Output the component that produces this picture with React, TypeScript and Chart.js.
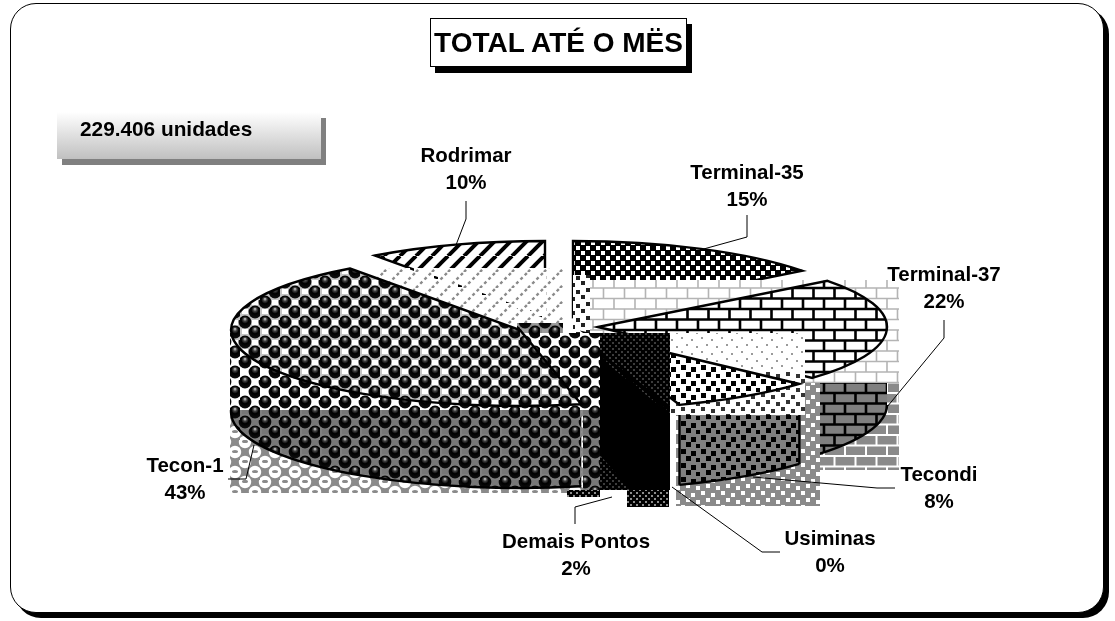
import React, { useEffect, useRef } from "react";
import { Chart, registerables, PieController } from "chart.js";

const categories = ["Terminal-35", "Terminal-37", "Tecondi", "Usiminas", "Demais Pontos", "Tecon-1", "Rodrimar"];
const shares = [14.6, 22.1, 8, 0.3, 1.6, 43.4, 10];

const FONT = '"Liberation Sans", Arial, sans-serif';

type Ctx = CanvasRenderingContext2D;
function tile(w: number, h: number, fn: (c: Ctx) => void) {
  const cv = document.createElement("canvas");
  cv.width = w; cv.height = h;
  const c = cv.getContext("2d")!;
  fn(c);
  return c.createPattern(cv, "repeat")!;
}
function ball(c: Ctx, x: number, y: number) {
  const g = c.createRadialGradient(x, y - 3.2, 0.3, x, y - 1, 6.5);
  g.addColorStop(0, "#c8c8c8");
  g.addColorStop(0.25, "#444");
  g.addColorStop(0.55, "#000");
  g.addColorStop(1, "#0c0c0c");
  c.fillStyle = g;
  c.beginPath(); c.arc(x, y, 6.4, 0, Math.PI * 2); c.fill();
}
function spheres(bg: string, hole: string) {
  return tile(20, 20, (c) => {
    c.fillStyle = bg; c.fillRect(0, 0, 20, 20);
    c.fillStyle = hole;
    c.fillRect(12, 0, 6, 5); c.fillRect(2, 9, 6, 5);
    for (const [x, y] of [[5, 2], [25, 2], [-15, 2], [5, 22], [15, 12]]) ball(c, x, y);
  });
}
function ringSpheres() {
  return tile(20, 20, (c) => {
    c.fillStyle = "#8a8a8a"; c.fillRect(0, 0, 20, 20);
    for (const [x, y] of [[5, 2], [5, 22], [15, 12], [25, 2], [-5, 12]]) {
      c.fillStyle = "#fff";
      c.beginPath(); c.arc(x, y, 6.2, 0, Math.PI * 2); c.fill();
      c.fillStyle = "#8a8a8a";
      c.beginPath(); c.ellipse(x, y - 0.5, 3, 1.6, 0, 0, Math.PI * 2); c.fill();
    }
  });
}
function bricks(bg: string, line: string, lw: number) {
  return tile(21, 21, (c) => {
    c.fillStyle = bg; c.fillRect(0, 0, 21, 21);
    c.strokeStyle = line; c.lineWidth = lw;
    c.beginPath();
    c.moveTo(0, 4.5); c.lineTo(21, 4.5);
    c.moveTo(0, 15); c.lineTo(21, 15);
    c.moveTo(5, 4.5); c.lineTo(5, 15);
    c.moveTo(15.5, 15); c.lineTo(15.5, 21);
    c.moveTo(15.5, 0); c.lineTo(15.5, 4.5);
    c.stroke();
  });
}
function spots(bg: string, fg: string, s: number) {
  return tile(20, 14, (c) => {
    c.fillStyle = bg; c.fillRect(0, 0, 20, 14);
    c.fillStyle = fg;
    for (const [x, y] of [[1, 1], [11, 3], [6, 8], [16, 10]]) c.fillRect(x, y, s, s);
  });
}
function checker() {
  return tile(10, 10, (c) => {
    c.fillStyle = "#000"; c.fillRect(0, 0, 10, 10);
    c.fillStyle = "#fff"; c.fillRect(1, 1, 4, 4); c.fillRect(6, 6, 4, 4);
  });
}
function stripes() {
  return tile(16, 16, (c) => {
    c.fillStyle = "#fff"; c.fillRect(0, 0, 16, 16);
    c.strokeStyle = "#000"; c.lineWidth = 4;
    for (const o of [-16, 0, 16]) {
      c.beginPath(); c.moveTo(o, 16); c.lineTo(o + 16, 0); c.stroke();
    }
  });
}
function ghostStripes() {
  return tile(16, 16, (c) => {
    c.fillStyle = "#fff"; c.fillRect(0, 0, 16, 16);
    c.strokeStyle = "#8a8a8a"; c.lineWidth = 2.4;
    c.setLineDash([3, 3]);
    for (const o of [-16, 0, 16]) {
      c.beginPath(); c.moveTo(o, 16); c.lineTo(o + 16, 0); c.stroke();
    }
    c.clearRect(2, 4, 4, 3); c.clearRect(10, 12, 4, 3);
  });
}
function dark() {
  return tile(6, 6, (c) => {
    c.fillStyle = "#000"; c.fillRect(0, 0, 6, 6);
    c.fillStyle = "#3c3c3c"; c.fillRect(0, 0, 2, 2); c.fillRect(3, 3, 2, 2);
  });
}
function midDither() {
  return tile(6, 6, (c) => {
    c.fillStyle = "#000"; c.fillRect(0, 0, 6, 6);
    c.fillStyle = "#8c8c8c"; c.fillRect(0, 0, 2, 2); c.fillRect(3, 3, 2, 2);
  });
}

const sliceCenters = [
  { x: 573, y: 317 }, { x: 598, y: 327 }, { x: 585, y: 333 }, { x: 595, y: 350 },
  { x: 595, y: 350 }, { x: 520, y: 330 }, { x: 545, y: 317 },
];
const RX = 289, RY = 76;

let P: any = null;
function makePatterns() {
  return {
    face: [
      checker(), bricks("#fff", "#000", 2.6), spots("#fff", "#000", 5), "#000", dark(),
      spheres("#c4c4c4", "#fff"), stripes(),
    ],
    ghostStripes: ghostStripes(),
    ghostBrick: bricks("#fff", "#b4b4b4", 1.6),
    ghostSpots: spots("#fff", "#222", 4),
    grayBrick: bricks("#8a8a8a", "#fff", 2),
    darkBrick: bricks("#808080", "#000", 2.6),
    ghostFaint: spots("#fff", "#9a9a9a", 2),
    whiteSpots: spots("#fff", "#333", 4),
    graySpots: spots("#8a8a8a", "#fff", 4),
    darkSpots: spots("#808080", "#000", 5),
    grayBall: spheres("#8a8a8a", "#9c9c9c"),
    whiteBall: spheres("#fff", "#fff"),
    ringBall: ringSpheres(),
    darkBall: spheres("#808080", "#777"),
    mid: midDither(),
    dark: dark(),
  };
}

class Pie3D extends PieController {
  static id = "pie3d";
  static defaults = {};
  draw() {
    const ctx: Ctx = (this as any).chart.ctx;
    const arcs: any[] = (this as any)._cachedMeta.data;

    const rect = (p: any, x0: number, y0: number, x1: number, y1: number) => {
      ctx.fillStyle = p; ctx.fillRect(x0, y0, x1 - x0, y1 - y0);
    };
    const face = (i: number) => {
      const a = arcs[i], m = sliceCenters[i];
      const R = a.outerRadius;
      ctx.save();
      ctx.translate(m.x, m.y);
      ctx.scale(RX / R, RY / R);
      ctx.translate(-a.x, -a.y);
      const bg = a.options.backgroundColor;
      if (bg && bg.setTransform) bg.setTransform(ctx.getTransform().inverse());
      a.draw(ctx);
      ctx.beginPath();
      ctx.moveTo(a.x, a.y);
      ctx.arc(a.x, a.y, R, a.startAngle, a.endAngle);
      ctx.closePath();
      ctx.setTransform(1, 0, 0, 1, 0, 0);
      ctx.lineWidth = 2.4; ctx.strokeStyle = "#000"; ctx.lineJoin = "miter";
      ctx.stroke();
      ctx.restore();
    };
    const side = (i: number, pat: any, top: number, depth: number, edges: [boolean, boolean]) => {
      const a = arcs[i], m = sliceCenters[i];
      const a0 = Math.max(a.startAngle, 0), a1 = Math.min(a.endAngle, Math.PI);
      ctx.save();
      ctx.beginPath(); ctx.rect(0, top, 1115, 621 - top); ctx.clip();
      ctx.beginPath();
      ctx.ellipse(m.x, m.y + depth, RX, RY, 0, a0, a1);
      ctx.ellipse(m.x, m.y, RX, RY, 0, a1, a0, true);
      ctx.closePath();
      ctx.fillStyle = pat; ctx.fill();
      ctx.beginPath();
      ctx.ellipse(m.x, m.y + depth, RX, RY, 0, a0, a1);
      ctx.lineWidth = 2.4; ctx.strokeStyle = "#000"; ctx.stroke();
      const v = (t: number) => {
        const x = m.x + RX * Math.cos(t), y = m.y + RY * Math.sin(t);
        ctx.beginPath(); ctx.moveTo(x, y); ctx.lineTo(x, y + depth); ctx.stroke();
      };
      if (edges[0]) v(a0);
      if (edges[1]) v(a1);
      ctx.restore();
    };

    // back slices
    face(0);
    face(6);
    // washed-out hatch blocks of the original rendering
    rect(P.ghostStripes, 376, 268, 563, 330);
    rect(P.ghostBrick, 590, 280, 899, 383);
    rect(P.ghostSpots, 573, 275, 590, 335);
    // Terminal-37
    rect(P.grayBrick, 805, 383, 899, 470);
    side(1, P.darkBrick, 383, 78, [false, false]);
    face(1);
    // Tecondi
    rect(P.ghostFaint, 670, 333, 805, 372);
    rect(P.whiteSpots, 670, 372, 805, 415);
    rect(P.graySpots, 676, 415, 820, 506);
    rect(P.graySpots, 805, 383, 820, 460);
    side(2, P.darkSpots, 415, 80, [true, true]);
    face(2);
    // Tecon-1
    rect(P.grayBall, 517, 323, 563, 333);
    rect(P.whiteBall, 230, 333, 600, 410);
    rect(P.ringBall, 230, 410, 600, 493);
    rect(P.darkBall, 583, 410, 600, 490);
    side(5, P.darkBall, 410, 82, [false, true]);
    face(5);
    // Usiminas & Demais Pontos
    rect(P.mid, 567, 490, 600, 497);
    rect(P.mid, 627, 490, 669, 507);
    rect(P.dark, 600, 333, 670, 490);
    ctx.save();
    ctx.beginPath(); ctx.rect(600, 333, 70, 157); ctx.clip();
    face(3);
    face(4);
    ctx.restore();
    ctx.fillStyle = "#000";
    ctx.beginPath();
    ctx.moveTo(600, 358); ctx.lineTo(670, 414); ctx.lineTo(670, 490);
    ctx.lineTo(630, 490); ctx.lineTo(600, 455); ctx.closePath(); ctx.fill();
  }
}

Chart.register(...registerables, Pie3D as any);

const labelPlugin = {
  id: "leaderLabels",
  afterDatasetsDraw(chart: any) {
    const ctx: Ctx = chart.ctx;
    const layout: Record<string, { at: [number, number]; line: number[][] }> = {
      "Terminal-35": { at: [747, 173], line: [[747, 215], [747, 237], [700, 250]] },
      "Terminal-37": { at: [944, 275], line: [[944, 320], [944, 338], [887, 407]] },
      "Tecondi": { at: [939, 475], line: [[895, 488], [877, 488], [753, 477]] },
      "Usiminas": { at: [830, 539], line: [[780, 552], [762, 552], [672, 487]] },
      "Demais Pontos": { at: [576, 542], line: [[575, 524], [575, 507], [612, 497]] },
      "Tecon-1": { at: [185, 466], line: [[228, 479], [246, 479], [254, 445]] },
      "Rodrimar": { at: [466, 156], line: [[466, 201], [466, 219], [456, 245]] },
    };
    ctx.save();
    ctx.textAlign = "center"; ctx.textBaseline = "middle";
    categories.forEach((name, i) => {
      const s = layout[name];
      ctx.strokeStyle = "#000"; ctx.lineWidth = 1;
      ctx.beginPath();
      s.line.forEach(([x, y], k) => (k ? ctx.lineTo(x, y) : ctx.moveTo(x, y)));
      ctx.stroke();
      ctx.fillStyle = "#000";
      ctx.font = `bold 20.5px ${FONT}`;
      ctx.fillText(name, s.at[0], s.at[1]);
      ctx.fillText(`${Math.round(shares[i])}%`, s.at[0], s.at[1] + 27);
    });
    ctx.restore();
  },
};

export default function App() {
  const ref = useRef<HTMLCanvasElement>(null);
  useEffect(() => {
    document.body.style.margin = "0";
    P = makePatterns();
    const chart: any = new Chart(ref.current!, {
      type: "pie3d" as any,
      data: {
        labels: categories,
        datasets: [{
          data: shares,
          backgroundColor: P.face as any,
          borderWidth: 0,
        }],
      },
      options: {
        animation: false,
        responsive: false,
        events: [],
        plugins: { legend: { display: false }, tooltip: { enabled: false } },
      },
      plugins: [labelPlugin as any],
    } as any);
    return () => chart.destroy();
  }, []);

  return (
    <div style={{ position: "relative", width: 1115, height: 621, overflow: "hidden", background: "#fff", fontFamily: FONT }}>
      <div style={{ position: "absolute", left: 10, top: 3, width: 1092, height: 608, border: "1px solid #000", borderRadius: 26, boxShadow: "5px 5px 0 #000", background: "#fff" }} />
      <canvas ref={ref} width={1115} height={621} style={{ position: "absolute", left: 0, top: 0, display: "block" }} />
      <div style={{ position: "absolute", left: 430, top: 18, width: 255, height: 47, border: "1px solid #000", boxShadow: "5px 6px 0 #000", background: "#fff", textAlign: "center", lineHeight: "48px", fontSize: 28, fontWeight: "bold", whiteSpace: "nowrap" }}>TOTAL ATÉ O MËS</div>
      <div style={{ position: "absolute", left: 57, top: 112, width: 264, height: 47, boxShadow: "5px 6px 0 #808080", background: "linear-gradient(#fff, #c0c0c0)", fontSize: 20.8, fontWeight: "bold", lineHeight: "34px", paddingLeft: 23, boxSizing: "border-box" }}>229.406 unidades</div>
    </div>
  );
}
